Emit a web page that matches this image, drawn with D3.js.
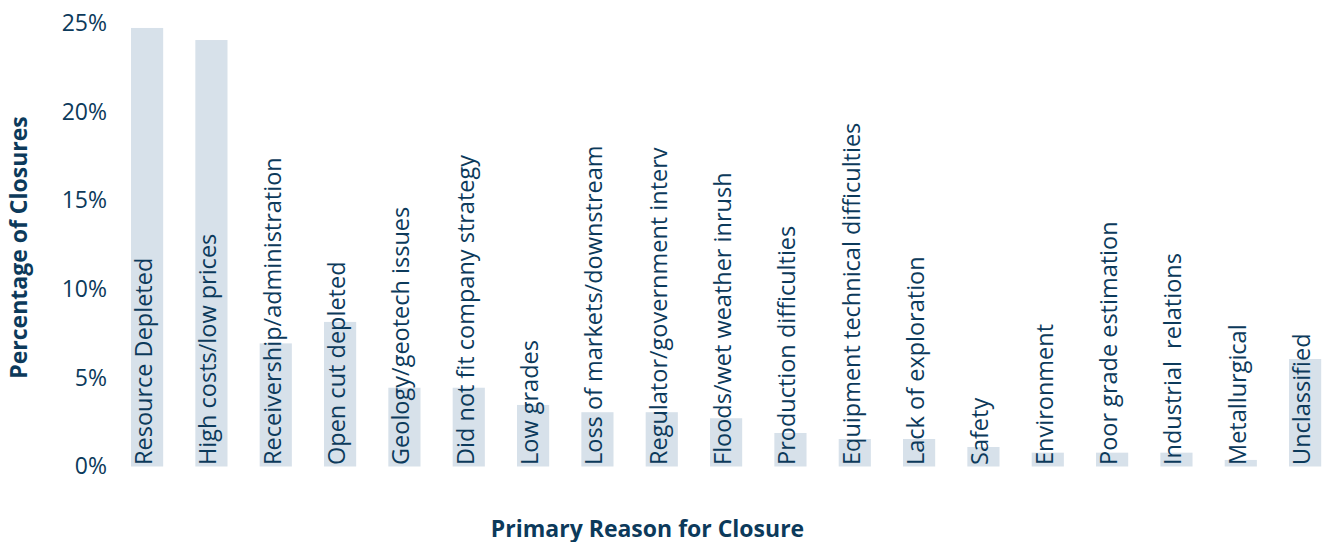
<!DOCTYPE html>
<html>
<head>
<meta charset="utf-8">
<script src="https://cdn.jsdelivr.net/npm/d3@7"></script>
<style>
  body { margin: 0; background: #ffffff; }
  svg { display: block; font-family: 'Open Sans', sans-serif; }
</style>
</head>
<body>
<div id="chart"></div>
<script>
// Closure reasons and share of closures
const categories = [
    'Resource Depleted', 'High costs/low prices', 'Receivership/administration',
    'Open cut depleted', 'Geology/geotech issues', 'Did not fit company strategy',
    'Low grades', 'Loss of markets/downstream', 'Regulator/government interv',
    'Floods/wet weather inrush', 'Production difficulties', 'Equipment technical difficulties',
    'Lack of exploration', 'Safety', 'Environment', 'Poor grade estimation',
    'Industrial  relations', 'Metallurgical', 'Unclassified'
];
const shares = [
    0.2472, 0.2404, 0.0694, 0.0815, 0.0444, 0.0444, 0.0347, 0.0306, 0.0306,
    0.0272, 0.0189, 0.0155, 0.0155, 0.0110, 0.0078, 0.0078, 0.0078, 0.0037, 0.0606
];
const yTicks = [0, 0.05, 0.10, 0.15, 0.20, 0.25];

const width = 1327;
const height = 542;
const textColor = '#0c3a5b';
const barColor = '#d7e1ea';

const svg = d3.select('#chart').append('svg')
    .attr('width', width)
    .attr('height', height);

const x = d3.scaleBand()
    .domain(categories)
    .range([131, 1321.2])
    .paddingInner(0.5)
    .paddingOuter(0);

const y = d3.scaleLinear()
    .domain([0, 0.25])
    .range([466.5, 23]);

// y axis: labels only, no line or ticks
const yAxis = svg.append('g')
    .attr('transform', 'translate(107,0)')
    .call(d3.axisLeft(y).tickValues(yTicks).tickFormat(d3.format('.0%')).tickSize(0).tickPadding(0));
yAxis.select('.domain').remove();
yAxis.selectAll('text')
    .style('font-family', "'Open Sans', sans-serif")
    .style('font-size', '23px')
    .attr('fill', textColor);

// bars
svg.append('g')
    .selectAll('rect')
    .data(categories)
    .enter().append('rect')
    .attr('x', d => x(d))
    .attr('y', (d, i) => y(shares[i]))
    .attr('width', x.bandwidth())
    .attr('height', (d, i) => y(0) - y(shares[i]))
    .attr('fill', barColor);

// category names written up each bar
svg.append('g')
    .selectAll('text')
    .data(categories)
    .enter().append('text')
    .attr('transform', d => 'translate(' + (x(d) + x.bandwidth() / 2 + 5) + ',' + (y(0) - 1.5) + ') rotate(-90)')
    .style('font-size', '23.5px')
    .style('white-space', 'pre')
    .attr('fill', textColor)
    .attr('text-anchor', 'start')
    .text(d => d);

// axis titles
svg.append('text')
    .attr('transform', 'translate(27,247.5) rotate(-90)')
    .attr('text-anchor', 'middle')
    .style('font-size', '23px')
    .style('font-weight', 'bold')
    .attr('fill', textColor)
    .text('Percentage of Closures');

svg.append('text')
    .attr('x', 647.5)
    .attr('y', 536.5)
    .attr('text-anchor', 'middle')
    .style('font-size', '23px')
    .style('font-weight', 'bold')
    .attr('fill', textColor)
    .text('Primary Reason for Closure');
</script>
</body>
</html>
